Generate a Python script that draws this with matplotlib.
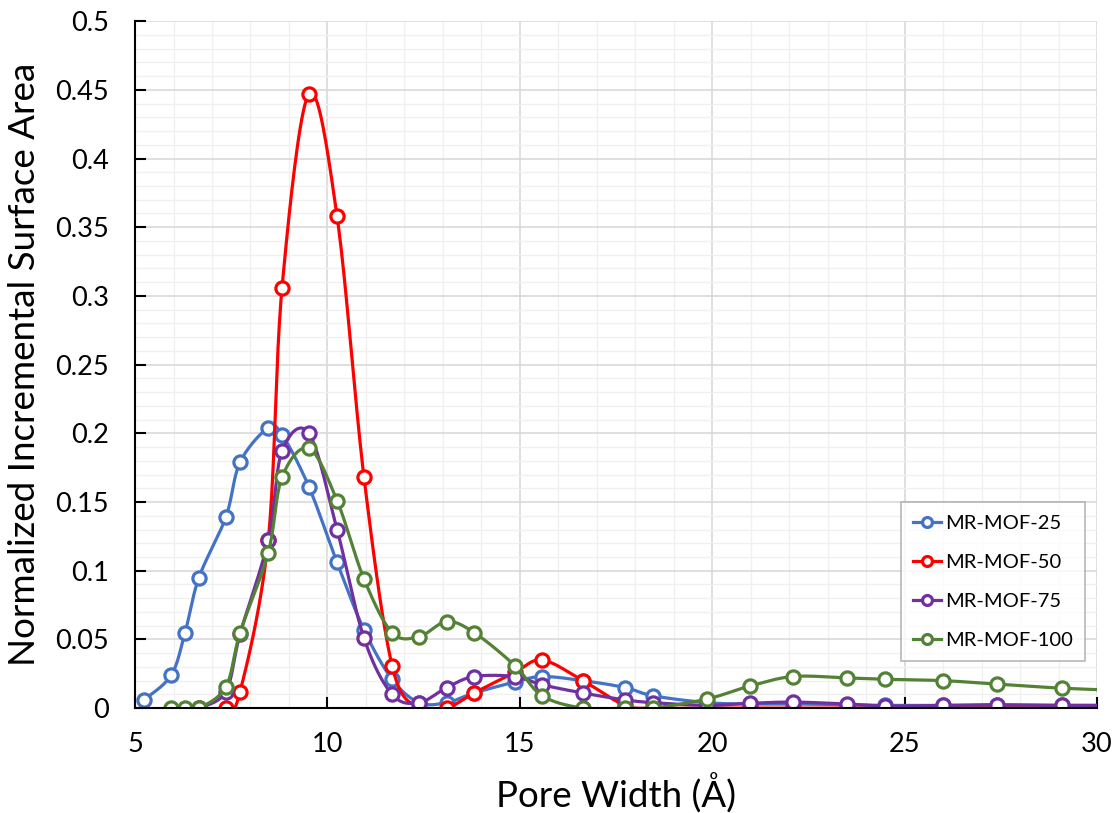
import numpy as np
import matplotlib
matplotlib.use('Agg')
import matplotlib.pyplot as plt
from matplotlib.ticker import MultipleLocator

plt.rcParams['font.family'] = ['Lato', 'DejaVu Sans']

# pore widths (Angstrom) shared by the DFT bins
X_FULL = [5.23, 5.94, 6.30, 6.66, 7.36, 7.73, 8.46, 8.82, 9.52, 10.25, 10.95,
          11.68, 12.38, 13.10, 13.81, 14.87, 15.58, 16.64, 17.73, 18.46, 19.86,
          20.97, 22.10, 23.50, 24.50, 26.00, 27.40, 29.10, 31.00]

mof25 = [0.006, 0.024, 0.055, 0.095, 0.139, 0.179, 0.204, 0.199, 0.161, 0.106, 0.057,
         0.021, 0.004, 0.004, 0.011, 0.019, 0.023, 0.020, 0.015, 0.009, 0.004,
         0.003, 0.003, 0.0025, 0.002, 0.002, 0.002, 0.002, 0.002]

mof50 = [0.0, 0.0, 0.012, 0.122, 0.306, 0.447, 0.358, 0.168,
         0.031, 0.0, 0.0, 0.011, 0.026, 0.035, 0.020, 0.002, 0.0, 0.0,
         0.0, 0.0, 0.0, 0.0, 0.0, 0.0, 0.0, 0.0]

mof75 = [0.0, 0.012, 0.054, 0.122, 0.187, 0.200, 0.130, 0.051,
         0.010, 0.004, 0.015, 0.023, 0.023, 0.017, 0.011, 0.006, 0.004, 0.002,
         0.0035, 0.0044, 0.003, 0.0015, 0.002, 0.0025, 0.002, 0.002]

mof100 = [0.0, 0.0, 0.0, 0.0155, 0.055, 0.113, 0.168, 0.189, 0.151, 0.094,
          0.055, 0.052, 0.063, 0.055, 0.031, 0.009, 0.0, 0.0, 0.0, 0.0066,
          0.016, 0.023, 0.022, 0.021, 0.020, 0.0175, 0.0145, 0.0125]

SERIES = [
    ('MR-MOF-25', X_FULL, mof25, '#4472c4'),
    ('MR-MOF-50', X_FULL[3:], mof50, '#ff0000'),
    ('MR-MOF-75', X_FULL[3:], mof75, '#7030a0'),
    ('MR-MOF-100', X_FULL[1:], mof100, '#548235'),
]


def smooth(x, y, n=20):
    # Catmull-Rom style curve through the points (like a spreadsheet smoothed line)
    x = np.asarray(x, float)
    y = np.asarray(y, float)
    px = np.concatenate([[x[0]], x, [x[-1]]])
    py = np.concatenate([[y[0]], y, [y[-1]]])
    xs, ys = [], []
    for i in range(len(x) - 1):
        p0 = np.array([px[i], py[i]])
        p1 = np.array([px[i + 1], py[i + 1]])
        p2 = np.array([px[i + 2], py[i + 2]])
        p3 = np.array([px[i + 3], py[i + 3]])
        c1 = p1 + (p2 - p0) / 6.0
        c2 = p2 - (p3 - p1) / 6.0
        t = np.linspace(0, 1, n, endpoint=False)[:, None]
        b = ((1 - t) ** 3) * p1 + 3 * ((1 - t) ** 2) * t * c1 + 3 * (1 - t) * t ** 2 * c2 + t ** 3 * p2
        xs.extend(b[:, 0])
        ys.extend(b[:, 1])
    xs.append(x[-1])
    ys.append(y[-1])
    return np.array(xs), np.array(ys), list(range(0, len(xs), n))


fig = plt.figure(figsize=(11.16, 8.13), dpi=100)
ax = fig.add_axes([0.121, 0.129, 0.862, 0.845])

for name, xv, yv, col in SERIES:
    xs, ys, idx = smooth(xv, yv)
    ax.plot(xs, ys, '-', color=col, lw=2.3, marker='o', markevery=idx,
            markersize=9.5, markerfacecolor='white', markeredgecolor=col,
            markeredgewidth=2.3, label=name, clip_on=True)

ax.set_xlim(5, 30)
ax.set_ylim(0, 0.5)
ax.xaxis.set_major_locator(MultipleLocator(5))
ax.xaxis.set_minor_locator(MultipleLocator(1))
ax.yaxis.set_major_locator(MultipleLocator(0.05))
ax.yaxis.set_minor_locator(MultipleLocator(0.01))
ax.set_yticks(np.arange(0, 0.501, 0.05))
ax.set_yticklabels(['0', '0.05', '0.1', '0.15', '0.2', '0.25', '0.3', '0.35', '0.4', '0.45', '0.5'])

ax.grid(which='major', color='#d9d9d9', lw=1.2)
ax.grid(which='minor', color='#f0f0f0', lw=1.0)
ax.set_axisbelow(True)

for s in ['top', 'right']:
    ax.spines[s].set_visible(False)
for s in ['left', 'bottom']:
    ax.spines[s].set_linewidth(1.5)
    ax.spines[s].set_color('black')

ax.tick_params(which='major', direction='in', length=8, width=1.5, labelsize=19.5)
ax.tick_params(axis='y', which='major', pad=19)
ax.tick_params(axis='x', which='major', pad=17)
ax.tick_params(which='minor', length=0)

ax.set_xlabel('Pore Width (Å)', fontsize=26.5, labelpad=12)
ax.set_ylabel('Normalized Incremental Surface Area', fontsize=26.5, labelpad=10)

leg = ax.legend(loc='lower right', bbox_to_anchor=(0.988, 0.068), fontsize=14.5,
                frameon=True, fancybox=False, edgecolor='#a6a6a6', handlelength=1.4,
                handletextpad=0.2, labelspacing=1.1, borderpad=0.6, markerscale=0.75,
                borderaxespad=0)
leg.get_frame().set_linewidth(1.2)

fig.savefig('out.png', dpi=100)
